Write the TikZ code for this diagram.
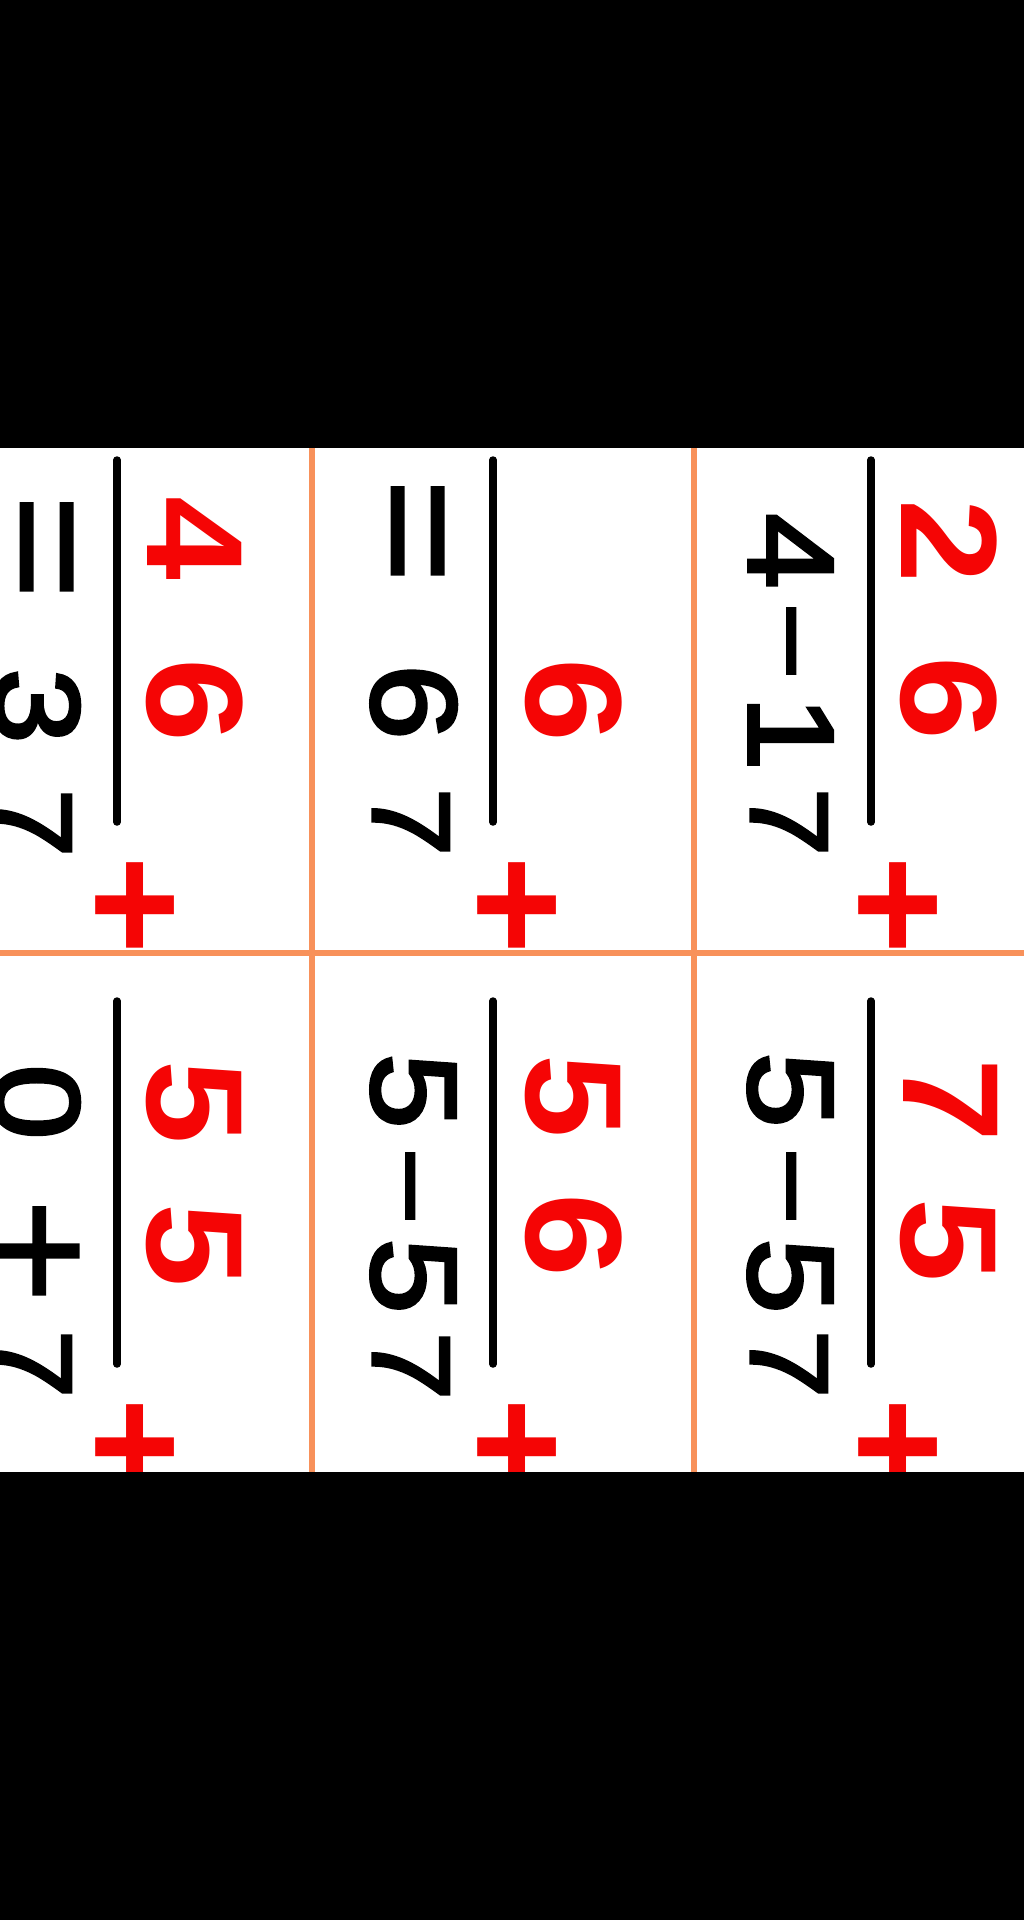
\documentclass[tikz,border=0pt]{standalone}
\usepackage{fontspec}
\newfontfamily\redfont{Liberation Sans}[FakeStretch=1.1]
\newfontfamily\blkfont{Liberation Sans}[FakeStretch=1.12, FakeBold=3]
\newfontfamily\symfont{Liberation Sans}[FakeStretch=1.12, FakeBold=1.5]
\definecolor{cardred}{RGB}{245,5,5}
\definecolor{gridorange}{RGB}{248,145,90}
\tikzset{
  reddig/.style={text=cardred, font=\redfont\bfseries\fontsize{137}{137}\selectfont, rotate=-90, anchor=base, inner sep=0pt},
  redplus/.style={text=cardred, font=\redfont\bfseries\fontsize{155}{155}\selectfont, rotate=-90, anchor=base, inner sep=0pt},
  blkdig/.style={text=black, font=\blkfont\fontsize{121}{121}\selectfont, rotate=-90, anchor=base, inner sep=0pt},
  blkseven/.style={text=black, font=\blkfont\fontsize{110}{110}\selectfont, rotate=-90, anchor=base, inner sep=0pt},
  blksym/.style={text=black, font=\symfont\fontsize{160}{160}\selectfont, rotate=-90, anchor=base, inner sep=0pt},
  blkminus/.style={text=black, font=\symfont\fontsize{121}{121}\selectfont, rotate=-90, anchor=base, inner sep=0pt},
  fracline/.style={draw=black, line width=7.5pt, line cap=round},
  gridline/.style={draw=gridorange, line width=6pt},
}
\begin{document}
\begin{tikzpicture}[x=1pt, y=-1pt]
\useasboundingbox (0,0) rectangle (1024,1920);
\fill[white] (0,0) rectangle (1024,1920);
% grid
\draw[gridline] (312,440) -- (312,1480);
\draw[gridline] (694,440) -- (694,1480);
\draw[gridline] (0,953) -- (1024,953);
% fraction lines
\draw[fracline] (117,460) -- (117,822);
\draw[fracline] (493,460) -- (493,822);
\draw[fracline] (871,460) -- (871,822);
\draw[fracline] (117,1001) -- (117,1364);
\draw[fracline] (493,1001) -- (493,1364);
\draw[fracline] (871,1001) -- (871,1364);
% top-left card
\node[reddig] (tlRa) at (147,538) {4};
\node[reddig] (tlRb) at (147,700) {6};
\node[redplus] (tlP) at (83,905) {+};
\node[blksym] (tlEq) at (-6,547) {=};
\node[blkdig] (tlBa) at (-5,706) {3};
\node[blkseven] (tlBb) at (-5,823) {7};
% top-middle card
\node[reddig] (tmRb) at (526,700) {6};
\node[redplus] (tmP) at (465,905) {+};
\node[blksym] (tmEq) at (365,531) {=};
\node[blkdig] (tmBa) at (372,702) {6};
\node[blkseven] (tmBb) at (373,822) {7};
% top-right card
\node[reddig] (trRa) at (901,541) {2};
\node[reddig] (trRb) at (901,698) {6};
\node[redplus] (trP) at (846,905) {+};
\node[blkdig] (trBa) at (749,551) {4};
\node[blkminus] (trMi) at (751,641) {−};
\node[blkdig] (trBb) at (749,733) {1};
\node[blkseven] (trBc) at (751,822) {7};
% bottom-left card
\node[reddig] (blRa) at (147,1102) {5};
\node[reddig] (blRb) at (147,1245) {5};
\node[redplus] (blP) at (83,1447) {+};
\node[blkdig] (blBa) at (-5,1102) {0};
\node[blksym] (blPl) at (-14,1251) {+};
\node[blkseven] (blBb) at (-5,1364) {7};
% bottom-middle card
\node[reddig] (bmRa) at (526,1096) {5};
\node[reddig] (bmRb) at (526,1235) {6};
\node[redplus] (bmP) at (465,1447) {+};
\node[blkdig] (bmBa) at (372,1091) {5};
\node[blkminus] (bmMi) at (370,1186) {−};
\node[blkdig] (bmBb) at (372,1276) {5};
\node[blkseven] (bmBc) at (373,1366) {7};
% bottom-right card
\node[reddig] (brRa) at (903,1100) {7};
\node[reddig] (brRb) at (901,1240) {5};
\node[redplus] (brP) at (846,1447) {+};
\node[blkdig] (brBa) at (749,1090) {5};
\node[blkminus] (brMi) at (751,1186) {−};
\node[blkdig] (brBb) at (749,1276) {5};
\node[blkseven] (brBc) at (751,1364) {7};
% black bands
\fill[black] (0,0) rectangle (1024,448);
\fill[black] (0,1472) rectangle (1024,1920);
\end{tikzpicture}
\end{document}
